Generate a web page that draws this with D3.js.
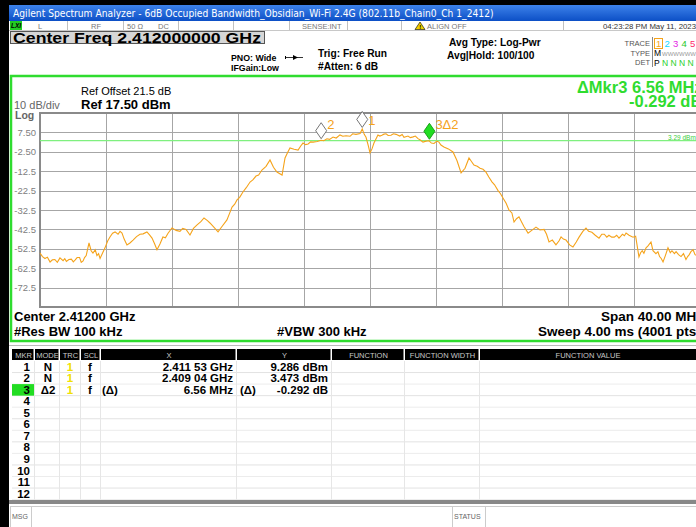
<!DOCTYPE html>
<html>
<head>
<meta charset="utf-8">
<script src="https://cdn.jsdelivr.net/npm/d3@7"></script>
<style>
  body { margin: 0; background: #fff; }
  svg { display: block; font-family: "Liberation Sans", Arial, sans-serif; }
</style>
</head>
<body>
<svg id="screen" width="696" height="527"></svg>
<script>
// ---- data ----
const centerGHz = 2.412;
const spanMHz = 40;
const refLevel = 17.5;      // dBm, top of graticule
const dbPerDiv = 10;
const displayLine = 3.29;   // dBm

const yTickLabels = ['7.50', '-2.50', '-12.5', '-22.5', '-32.5', '-42.5', '-52.5', '-62.5', '-72.5'];

// trace 1: [offset from center (MHz), level (dBm)]
const trace = [
  [-20.0, -54.7], [-19.85, -56.5], [-19.7, -57.5], [-19.55, -56.8], [-19.39, -59.3], [-19.25, -58.2],
  [-19.1, -58.0], [-18.95, -59.5], [-18.79, -57.2], [-18.6, -58.6], [-18.5, -57.6], [-18.4, -59.0],
  [-18.25, -58.0], [-18.1, -57.8], [-17.98, -59.2], [-17.88, -58.3], [-17.75, -57.0], [-17.6, -57.0],
  [-17.5, -59.5], [-17.39, -58.8], [-17.3, -57.0], [-17.2, -56.0], [-17.03, -49.5], [-16.9, -53.5],
  [-16.79, -54.7], [-16.65, -53.0], [-16.55, -56.0], [-16.45, -55.0], [-16.36, -57.5], [-16.2, -54.5],
  [-16.06, -52.0], [-15.9, -48.5], [-15.76, -46.4], [-15.6, -44.5], [-15.45, -43.8], [-15.27, -45.0],
  [-15.15, -43.5], [-15.03, -44.4], [-14.9, -47.5], [-14.73, -50.5], [-14.55, -49.5], [-14.36, -48.0],
  [-14.15, -46.2], [-13.94, -45.0], [-13.75, -44.8], [-13.52, -43.8], [-13.35, -45.5], [-13.21, -47.0],
  [-13.05, -50.0], [-12.91, -53.0], [-12.73, -50.0], [-12.55, -46.4], [-12.4, -46.8], [-12.24, -44.5],
  [-12.0, -41.8], [-11.75, -43.0], [-11.52, -43.5], [-11.35, -42.0], [-11.15, -42.5], [-10.91, -45.4],
  [-10.7, -42.0], [-10.48, -40.2], [-10.25, -38.5], [-10.06, -36.6], [-9.85, -38.0], [-9.7, -39.2],
  [-9.45, -41.5], [-9.21, -43.8], [-8.97, -41.0], [-8.67, -37.6], [-8.5, -34.0], [-8.36, -31.0],
  [-8.2, -29.5], [-8.06, -27.3], [-7.9, -26.0], [-7.7, -23.2], [-7.5, -21.0], [-7.27, -18.1],
  [-7.1, -17.0], [-6.91, -15.0], [-6.75, -14.5], [-6.55, -11.9], [-6.3, -10.0], [-6.06, -6.7],
  [-5.85, -10.5], [-5.64, -12.9], [-5.33, -14.5], [-5.15, -5.7], [-5.0, -3.0], [-4.85, -0.5],
  [-4.6, -1.2], [-4.36, -1.6], [-4.2, 0.5], [-4.06, 2.0], [-3.9, 1.2], [-3.75, 1.5],
  [-3.6, 2.6], [-3.45, 2.5], [-3.2, 2.8], [-2.97, 3.47], [-2.8, 3.2], [-2.61, 4.2],
  [-2.45, 3.9], [-2.24, 5.1], [-2.05, 4.6], [-1.82, 6.2], [-1.65, 5.5], [-1.45, 5.8],
  [-1.21, 5.5], [-1.05, 6.8], [-0.85, 6.5], [-0.6, 6.9], [-0.47, 9.29], [-0.35, 6.5],
  [-0.24, 5.0], [-0.1, 0.5], [0.0, -3.1], [0.12, -1.0], [0.24, 2.0], [0.48, 6.2],
  [0.6, 5.6], [0.72, 6.0], [0.85, 6.6], [0.97, 6.8], [1.1, 5.9], [1.27, 6.0],
  [1.42, 6.8], [1.58, 6.5], [1.8, 5.6], [1.95, 6.4], [2.06, 5.0], [2.3, 5.6],
  [2.45, 4.8], [2.61, 5.2], [2.75, 5.6], [2.91, 4.3], [3.05, 3.6], [3.21, 2.5],
  [3.4, 3.0], [3.58, 3.18], [3.72, 2.0], [3.88, 1.8], [4.05, 3.0], [4.18, 2.5],
  [4.3, 1.0], [4.48, 0.0], [4.75, -1.0], [5.03, -2.6], [5.27, -7.0], [5.52, -13.4],
  [5.76, -11.0], [6.0, -5.7], [6.15, -7.5], [6.3, -9.3], [6.5, -10.0], [6.67, -11.0],
  [6.85, -11.5], [7.03, -13.0], [7.2, -15.5], [7.39, -18.0], [7.55, -19.5], [7.76, -22.5],
  [7.9, -24.0], [8.06, -26.3], [8.25, -29.0], [8.42, -32.5], [8.6, -34.0], [8.73, -38.7],
  [8.88, -37.0], [9.03, -36.0], [9.18, -38.5], [9.33, -41.0], [9.58, -44.4], [9.8, -43.0],
  [10.06, -41.3], [10.3, -42.8], [10.55, -42.5], [10.7, -45.0], [10.85, -49.0], [11.05, -48.0],
  [11.27, -50.5], [11.45, -48.5], [11.58, -46.4], [11.72, -47.5], [11.88, -48.0], [12.1, -50.5],
  [12.3, -51.6], [12.5, -49.0], [12.67, -46.5], [12.9, -43.5], [13.09, -41.8], [13.25, -43.5],
  [13.45, -44.0], [13.65, -45.5], [13.88, -47.0], [14.05, -45.0], [14.2, -45.0], [14.35, -46.5],
  [14.48, -45.5], [14.65, -46.5], [14.8, -46.5], [14.95, -45.5], [15.09, -47.0], [15.2, -46.0],
  [15.3, -45.0], [15.42, -45.8], [15.52, -44.4], [15.7, -45.5], [15.94, -46.5], [16.1, -46.0],
  [16.3, -56.7], [16.4, -54.5], [16.5, -53.5], [16.6, -54.8], [16.73, -52.0], [16.85, -51.0],
  [17.03, -49.0], [17.15, -53.5], [17.33, -55.0], [17.45, -54.0], [17.55, -56.5], [17.65, -57.5],
  [17.76, -59.3], [17.9, -56.0], [18.06, -52.0], [18.2, -54.5], [18.3, -53.5], [18.45, -55.0],
  [18.55, -54.0], [18.7, -55.5], [18.85, -56.5], [19.0, -55.0], [19.15, -58.0], [19.25, -56.5],
  [19.35, -55.5], [19.45, -54.0], [19.58, -53.0], [19.7, -55.5], [19.8, -56.0], [19.9, -54.5],
  [20.0, -55.0]
];

// markers: id, offset MHz, level dBm, label, fill
const markerIds    = ['1', '2', '3'];
const markerOffset = [-0.47, -2.96, 3.60];
const markerLevel  = [9.286, 3.473, 3.181];
const markerLabel  = ['1', '2', '3\u03942'];
const markerFill   = ['#ffffff', '#ffffff', '#22dd22'];

// marker table rows
const tableMode = ['N', 'N', '\u03942'];
const tableX    = ['2.411 53 GHz', '2.409 04 GHz', '6.56 MHz'];
const tableY    = ['9.286 dBm', '3.473 dBm', '-0.292 dB'];
const tableCols = ['MKR', 'MODE', 'TRC', 'SCL', 'X', 'Y', 'FUNCTION', 'FUNCTION WIDTH', 'FUNCTION VALUE'];
const tableColX = [12, 35, 60, 81, 101, 237, 332, 405, 480, 720];

const svg = d3.select('#screen');
const green = '#2fdc2f';
const orange = '#f5a31a';

// ---- frame, title bar ----
const defs = svg.append('defs');
const grad = defs.append('linearGradient').attr('id', 'titleGrad').attr('x1', 0).attr('y1', 0).attr('x2', 0).attr('y2', 1);
grad.append('stop').attr('offset', '0%').attr('stop-color', '#3d82ea');
grad.append('stop').attr('offset', '100%').attr('stop-color', '#0c4fc6');

svg.append('rect').attr('width', 696).attr('height', 527).attr('fill', '#fff');
svg.append('rect').attr('width', 696).attr('height', 5).attr('fill', '#000');
svg.append('rect').attr('width', 9).attr('height', 527).attr('fill', '#000');
svg.append('rect').attr('x', 9).attr('y', 5).attr('width', 687).attr('height', 16).attr('fill', 'url(#titleGrad)');
svg.append('text').attr('x', 13).attr('y', 17).attr('fill', '#fff').attr('font-size', 10.2)
  .attr('font-family', '"DejaVu Sans Condensed", "Liberation Sans", sans-serif')
  .text('Agilent Spectrum Analyzer - 6dB Occupied Bandwidth_Obsidian_Wi-Fi 2.4G (802.11b_Chain0_Ch 1_2412)');

// status row
svg.append('rect').attr('x', 9).attr('y', 21).attr('width', 687).attr('height', 10).attr('fill', '#fff');
svg.append('line').attr('x1', 9).attr('x2', 696).attr('y1', 30.5).attr('y2', 30.5).attr('stroke', '#c8c8c8');
svg.append('rect').attr('x', 10).attr('y', 21).attr('width', 12).attr('height', 9).attr('fill', '#22cc22');
svg.append('text').attr('x', 11).attr('y', 28).attr('font-size', 6.5).attr('font-weight', 'bold').attr('font-style', 'italic').text('LXI');
[67, 123, 178, 233, 289, 347, 401, 563].forEach(x => {
  svg.append('line').attr('x1', x + 0.5).attr('x2', x + 0.5).attr('y1', 21).attr('y2', 30).attr('stroke', '#c0c0c0');
});
const statusText = [['L', 38], ['RF', 91], ['50 \u03a9', 127], ['DC', 158], ['SENSE:INT', 302], ['ALIGN OFF', 427]];
statusText.forEach(d => {
  svg.append('text').attr('x', d[1]).attr('y', 28.5).attr('font-size', 7.5).attr('fill', '#777').text(d[0]);
});
svg.append('path').attr('d', 'M420,22 L425,29.5 L415,29.5 Z').attr('fill', '#f0d000').attr('stroke', '#000').attr('stroke-width', 0.6);
svg.append('text').attr('x', 419.2).attr('y', 29).attr('font-size', 6).attr('font-weight', 'bold').text('!');
svg.append('text').attr('x', 603).attr('y', 28.5).attr('font-size', 7.8).attr('fill', '#333').text('04:23:28 PM May 11, 2023');

// center freq box
svg.append('rect').attr('x', 10.5).attr('y', 31.5).attr('width', 254).attr('height', 12).attr('fill', '#d6d6d6').attr('stroke', '#555');
svg.append('text').attr('x', 13).attr('y', 43).attr('font-size', 15.5).attr('font-weight', 'bold')
  .attr('textLength', 248).attr('lengthAdjust', 'spacingAndGlyphs').text('Center Freq 2.412000000 GHz');

// setup info
const small = (x, y, t, size, weight) => svg.append('text').attr('x', x).attr('y', y).attr('font-size', size || 9).attr('font-weight', weight || 'bold').text(t);
small(231, 61, 'PNO: Wide', 8.8);
small(231, 71, 'IFGain:Low', 8.8);
svg.append('line').attr('x1', 285).attr('x2', 303).attr('y1', 57.5).attr('y2', 57.5).attr('stroke', '#000').attr('stroke-width', 0.8);
svg.append('path').attr('d', 'M293,55 L298,57.5 L293,60 Z').attr('fill', '#000');
svg.append('line').attr('x1', 285.5).attr('x2', 285.5).attr('y1', 56).attr('y2', 59).attr('stroke', '#000');
small(318, 57, 'Trig: Free Run', 10.2);
small(318, 70, '#Atten: 6 dB', 10.2);
small(449, 46, 'Avg Type: Log-Pwr', 10.2);
small(447, 59, 'Avg|Hold: 100/100', 10.2);

// trace indicator
[['TRACE', 46], ['TYPE', 55.5], ['DET', 65]].forEach(d => {
  svg.append('text').attr('x', 650).attr('y', d[1]).attr('text-anchor', 'end').attr('font-size', 7.5).attr('fill', '#555').text(d[0]);
});
svg.append('line').attr('x1', 652.5).attr('x2', 652.5).attr('y1', 37).attr('y2', 67).attr('stroke', '#888');
svg.append('rect').attr('x', 654.5).attr('y', 38.5).attr('width', 8).attr('height', 10).attr('fill', 'none').attr('stroke', orange);
const traceNumColors = [orange, '#11d8ff', '#e41ee4', '#28c828', '#ff2a6a'];
traceNumColors.forEach((c, i) => {
  svg.append('text').attr('x', 656 + i * 8.5).attr('y', 47).attr('font-size', 9.5).attr('fill', c).text(i + 1);
});
svg.append('text').attr('x', 654).attr('y', 56).attr('font-size', 8.5).text('M');
svg.append('text').attr('x', 662).attr('y', 56).attr('font-size', 6).attr('fill', '#999').text('WWWWWW');
svg.append('text').attr('x', 654).attr('y', 66).attr('font-size', 8.5).text('P');
svg.append('text').attr('x', 662).attr('y', 66).attr('font-size', 8.5).attr('fill', '#2ad02a').text('N N N N');

// ---- green display frame ----
svg.append('rect').attr('x', 11).attr('y', 76).attr('width', 720).attr('height', 265).attr('fill', 'none').attr('stroke', green).attr('stroke-width', 2.5);

small(81, 95, 'Ref Offset 21.5 dB', 11, 'normal');
small(81, 109, 'Ref 17.50 dBm', 13);
svg.append('text').attr('x', 14).attr('y', 109).attr('font-size', 11).attr('fill', '#666').text('10 dB/div');
svg.append('text').attr('x', 15).attr('y', 119).attr('font-size', 10.5).attr('fill', '#666').attr('font-weight', 'bold').text('Log');

svg.append('text').attr('x', 577).attr('y', 92.5).attr('font-size', 16.5).attr('font-weight', 'bold').attr('fill', green).text('\u0394Mkr3 6.56 MHz');
svg.append('text').attr('x', 629).attr('y', 107).attr('font-size', 16.5).attr('font-weight', 'bold').attr('fill', green).text('-0.292 dB');

// ---- plot ----
const plot = { left: 40, top: 113, width: 660, height: 194 };
const x = d3.scaleLinear().domain([-spanMHz / 2, spanMHz / 2]).range([plot.left, plot.left + plot.width]);
const y = d3.scaleLinear().domain([refLevel - 10 * dbPerDiv, refLevel]).range([plot.top + plot.height, plot.top]);

const grid = svg.append('g').attr('stroke', '#a6a6a6').attr('stroke-width', 1);
d3.range(0, 11).forEach(i => {
  const gx = Math.round(x(-spanMHz / 2 + i * spanMHz / 10)) + 0.5;
  grid.append('line').attr('x1', gx).attr('x2', gx).attr('y1', plot.top).attr('y2', plot.top + plot.height);
  const gy = Math.round(y(refLevel - i * dbPerDiv)) + 0.5;
  grid.append('line').attr('x1', plot.left).attr('x2', plot.left + plot.width).attr('y1', gy).attr('y2', gy);
});
svg.append('rect').attr('x', plot.left).attr('y', plot.top).attr('width', plot.width).attr('height', plot.height)
  .attr('fill', 'none').attr('stroke', '#8a8a8a').attr('stroke-width', 2);

yTickLabels.forEach((t, i) => {
  svg.append('text').attr('x', 36).attr('y', y(refLevel - (i + 1) * dbPerDiv) + 3.5)
    .attr('text-anchor', 'end').attr('font-size', 9.5).attr('fill', '#808080').text(t);
});

// display line
svg.append('line').attr('x1', plot.left).attr('x2', plot.left + plot.width)
  .attr('y1', y(displayLine)).attr('y2', y(displayLine)).attr('stroke', '#7ff07f').attr('stroke-width', 1.2);
svg.append('text').attr('x', 668).attr('y', y(displayLine) - 1).attr('font-size', 6.5).attr('fill', '#3ccf3c').text('3.29 dBm');

// trace
const line = d3.line().x(d => x(d[0])).y(d => y(d[1]));
svg.append('path').datum(trace).attr('d', line).attr('fill', 'none').attr('stroke', orange).attr('stroke-width', 1.1);

// markers
markerIds.forEach((id, i) => {
  const mx = x(markerOffset[i]);
  const my = y(markerLevel[i]) - 1.5;
  svg.append('path').attr('d', `M${mx},${my} L${mx + 5.5},${my - 8} L${mx},${my - 16} L${mx - 5.5},${my - 8} Z`)
    .attr('fill', markerFill[i]).attr('stroke', i === 2 ? '#119911' : '#666').attr('stroke-width', 0.9);
  svg.append('text').attr('x', mx + 6).attr('y', Math.max(my - 10, plot.top + 12))
    .attr('font-size', 13).attr('fill', orange).text(markerLabel[i]);
});

// bottom annotations
small(14, 321, 'Center 2.41200 GHz', 13);
small(14, 336, '#Res BW 100 kHz', 13);
small(277, 336, '#VBW 300 kHz', 13);
small(601, 321, 'Span 40.00 MHz', 13.5);
small(538, 336, 'Sweep  4.00 ms (4001 pts)', 13.5);

// ---- marker table ----
const tTop = 349, hdrH = 11, rowH = 11.55;
svg.append('rect').attr('x', 9).attr('y', 343).attr('width', 687).attr('height', 6).attr('fill', '#fff');
svg.append('line').attr('x1', 9).attr('x2', 696).attr('y1', 345.5).attr('y2', 345.5).attr('stroke', '#bbb');
tableCols.forEach((c, i) => {
  const x0 = tableColX[i], x1 = tableColX[i + 1];
  svg.append('rect').attr('x', x0).attr('y', tTop).attr('width', x1 - x0 - 1.5).attr('height', hdrH).attr('fill', '#000');
  svg.append('text').attr('x', (x0 + Math.min(x1, 696)) / 2).attr('y', tTop + 8.5).attr('text-anchor', 'middle')
    .attr('font-size', 7.5).attr('fill', '#c8c8c8').text(c);
});
const rowsTop = tTop + hdrH + 1;
d3.range(12).forEach(r => {
  const ry = rowsTop + r * rowH;
  svg.append('line').attr('x1', 12).attr('x2', 696).attr('y1', ry + rowH).attr('y2', ry + rowH)
    .attr('stroke', r % 2 ? '#ececec' : '#e2e2e2');
  if (r === 2) svg.append('rect').attr('x', 12).attr('y', ry).attr('width', 22).attr('height', rowH).attr('fill', '#22dd22');
  svg.append('text').attr('x', 30).attr('y', ry + 9.6).attr('text-anchor', 'end').attr('font-size', 11.5).attr('font-weight', 'bold').text(r + 1);
});
tableColX.slice(1, 9).forEach(cx => {
  svg.append('line').attr('x1', cx - 0.5).attr('x2', cx - 0.5).attr('y1', rowsTop).attr('y2', rowsTop + 12 * rowH).attr('stroke', '#e6e6e6');
});
tableMode.forEach((m, r) => {
  const ty = rowsTop + r * rowH + 9.6;
  const t = (xx, s, anchor, fill) => svg.append('text').attr('x', xx).attr('y', ty).attr('text-anchor', anchor)
    .attr('font-size', 11.5).attr('font-weight', 'bold').attr('fill', fill || '#000').text(s);
  t(48, m, 'middle');
  t(70, '1', 'middle', '#f0e000');
  t(90, 'f', 'middle');
  t(233, tableX[r], 'end');
  t(328, tableY[r], 'end');
  if (r === 2) { t(102, '(\u0394)', 'start'); t(240, '(\u0394)', 'start'); }
});

// status bar
svg.append('rect').attr('x', 9).attr('y', 500).attr('width', 687).attr('height', 4).attr('fill', '#888');
svg.append('rect').attr('x', 10.5).attr('y', 506.5).attr('width', 690).attr('height', 22).attr('fill', '#fff').attr('stroke', '#ccc');
svg.append('line').attr('x1', 31.5).attr('x2', 31.5).attr('y1', 506).attr('y2', 527).attr('stroke', '#ccc');
svg.append('line').attr('x1', 452.5).attr('x2', 452.5).attr('y1', 506).attr('y2', 527).attr('stroke', '#ccc');
svg.append('line').attr('x1', 485.5).attr('x2', 485.5).attr('y1', 506).attr('y2', 527).attr('stroke', '#ccc');
svg.append('text').attr('x', 12).attr('y', 519).attr('font-size', 7).attr('fill', '#666').text('MSG');
svg.append('text').attr('x', 454).attr('y', 519).attr('font-size', 7).attr('fill', '#666').text('STATUS');
</script>
</body>
</html>
